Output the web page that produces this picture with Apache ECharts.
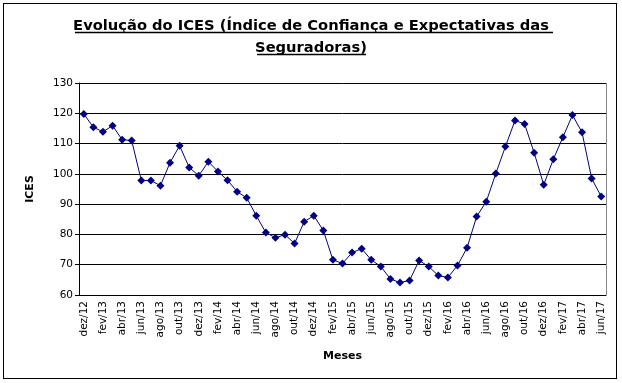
<!DOCTYPE html>
<html><head><meta charset="utf-8">
<script src="https://cdn.jsdelivr.net/npm/echarts@6/dist/echarts.min.js"></script>
<style>
html,body{margin:0;padding:0;background:#fff;}
#wrap{position:absolute;left:3px;top:3px;width:612px;height:374px;border:1px solid #000;}
#c{position:absolute;left:-4px;top:-4px;width:622px;height:383px;}
</style></head>
<body><div id="wrap"><div id="c"></div></div>
<script>
const months = ['dez/12','jan/13','fev/13','mar/13','abr/13','mai/13','jun/13','jul/13','ago/13','set/13','out/13','nov/13',
'dez/13','jan/14','fev/14','mar/14','abr/14','mai/14','jun/14','jul/14','ago/14','set/14','out/14','nov/14',
'dez/14','jan/15','fev/15','mar/15','abr/15','mai/15','jun/15','jul/15','ago/15','set/15','out/15','nov/15',
'dez/15','jan/16','fev/16','mar/16','abr/16','mai/16','jun/16','jul/16','ago/16','set/16','out/16','nov/16',
'dez/16','jan/17','fev/17','mar/17','abr/17','mai/17','jun/17'];
const ices = [119.8,115.4,113.9,115.9,111.3,111.0,97.8,97.8,96.1,103.7,109.3,102.1,
99.4,104.0,100.8,97.9,94.1,92.1,86.2,80.6,78.9,79.9,77.0,84.2,
86.2,81.3,71.6,70.4,74.0,75.3,71.6,69.4,65.3,64.1,64.8,71.4,
69.4,66.4,65.8,69.7,75.6,85.9,90.8,100.1,109.0,117.6,116.5,107.0,
96.4,104.8,112.1,119.4,113.7,98.5,92.5];
const yTicks = {min:60, max:130, step:10};
const titleLines = ['Evolução do ICES (Índice de Confiança e Expectativas das','Seguradoras)'];
const FONT = 'DejaVu Sans';
const chart = echarts.init(document.getElementById('c'));
chart.setOption({
  animation:false,
  backgroundColor:'transparent',
  title:{text:titleLines.join('\n'), left:'center', top:10,
    textStyle:{fontFamily:FONT, fontWeight:'bold', fontSize:14.7, color:'#000', lineHeight:22}},
  graphic:[
    {type:'line', shape:{x1:75,y1:32.5,x2:553,y2:32.5}, style:{stroke:'#000',lineWidth:1.5}},
    {type:'line', shape:{x1:257,y1:54.5,x2:366,y2:54.5}, style:{stroke:'#000',lineWidth:1.5}},
    {type:'line', shape:{x1:79,y1:83.5,x2:606,y2:83.5}, style:{stroke:'#888',lineWidth:1}},
    {type:'line', shape:{x1:606.5,y1:83,x2:606.5,y2:295}, style:{stroke:'#888',lineWidth:1}}
  ],
  grid:{left:79, right:16, top:83, bottom:88, containLabel:false},
  xAxis:{type:'category', data:months, boundaryGap:true,
    name:'Meses', nameLocation:'middle', nameGap:56,
    nameTextStyle:{fontFamily:FONT, fontWeight:'bold', fontSize:11, color:'#000'},
    axisLine:{lineStyle:{color:'#000', width:1}},
    axisTick:{interval:1, length:4, lineStyle:{color:'#000'}},
    axisLabel:{interval:1, rotate:90, fontFamily:FONT, fontSize:10.5, color:'#000', margin:6},
    splitLine:{show:false}},
  yAxis:{type:'value', min:yTicks.min, max:yTicks.max, interval:yTicks.step,
    name:'ICES', nameLocation:'middle', nameGap:43, nameRotate:90,
    nameTextStyle:{fontFamily:FONT, fontWeight:'bold', fontSize:11, color:'#000'},
    axisLine:{show:true, lineStyle:{color:'#000', width:1}},
    axisTick:{show:true, length:4, lineStyle:{color:'#000'}},
    axisLabel:{fontFamily:FONT, fontSize:10.5, color:'#000', margin:6},
    splitLine:{show:true, lineStyle:{color:'#000', width:1}}},
  series:[{type:'line', data:ices, symbol:'diamond', symbolSize:8, showAllSymbol:true,
    itemStyle:{color:'#000080'}, lineStyle:{color:'#000080', width:1}}]
});
</script></body></html>
